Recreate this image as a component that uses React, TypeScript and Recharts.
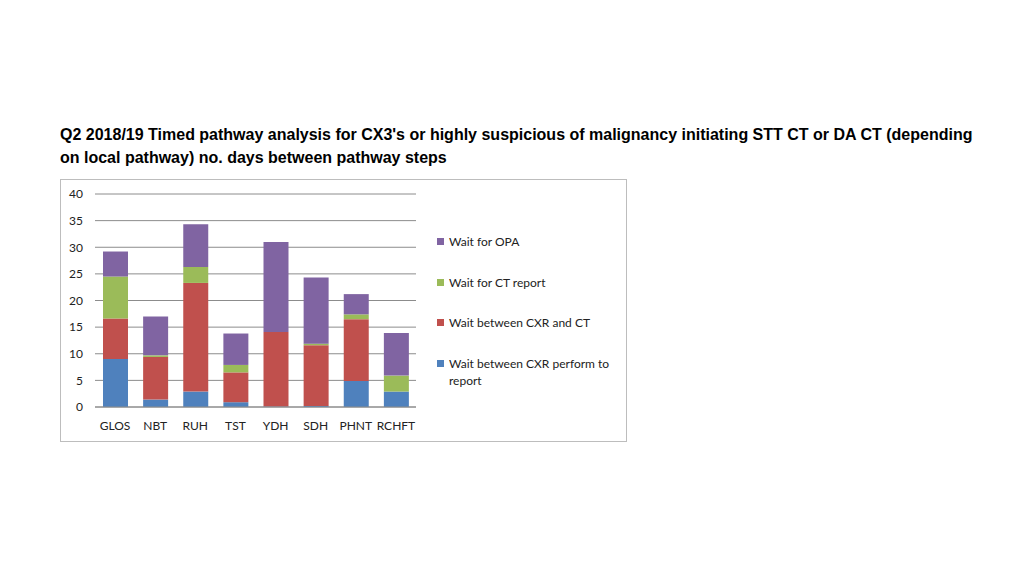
import { BarChart, Bar, XAxis, YAxis, CartesianGrid } from 'recharts'

const sites = ['GLOS', 'NBT', 'RUH', 'TST', 'YDH', 'SDH', 'PHNT', 'RCHFT']
const cxrReport = [9.0, 1.4, 2.9, 0.9, 0.1, 0.2, 4.9, 2.9]
const cxrToCt = [7.6, 8.0, 20.4, 5.6, 14.0, 11.4, 11.6, 0]
const ctReport = [7.9, 0.3, 3.0, 1.4, 0, 0.3, 0.9, 3.0]
const opa = [4.7, 7.3, 8.0, 5.9, 16.9, 12.4, 3.8, 8.0]
const yTicks = [0, 5, 10, 15, 20, 25, 30, 35, 40]

const series = [
  { key: 'cxrReport', name: 'Wait between CXR perform to report', color: '#4F81BD', values: cxrReport },
  { key: 'cxrToCt', name: 'Wait between CXR and CT', color: '#C0504D', values: cxrToCt },
  { key: 'ctReport', name: 'Wait for CT report', color: '#9BBB59', values: ctReport },
  { key: 'opa', name: 'Wait for OPA', color: '#8064A2', values: opa },
]

const data = sites.map((site, i) => {
  const row: Record<string, string | number> = { site }
  series.forEach(s => { row[s.key] = s.values[i] })
  return row
})

const font = 'Lato, "Open Sans", sans-serif'

function LegendBox() {
  return (
    <div style={{ position: 'absolute', left: 376, top: 53, width: 180, fontFamily: font, fontSize: 12, color: '#222' }}>
      {[...series].reverse().map(s => (
        <div key={s.key} style={{ display: 'flex', alignItems: 'flex-start', height: 40.5 }}>
          <span style={{ width: 7, height: 7, background: s.color, marginTop: 5, marginRight: 5, flexShrink: 0 }} />
          <span style={{ lineHeight: '17px' }}>{s.name}</span>
        </div>
      ))}
    </div>
  )
}

export default function App() {
  return (
    <div style={{ position: 'absolute', left: 0, top: 0, width: 1024, height: 576, background: '#fff' }}>
      <div style={{
        position: 'absolute', left: 60, top: 123, width: 940,
        fontFamily: '"Liberation Sans", Arial, sans-serif', fontWeight: 'bold', fontSize: 16,
        lineHeight: '23px', color: '#000',
      }}>
        Q2 2018/19 Timed pathway analysis for CX3's or highly suspicious of malignancy initiating STT CT or DA CT (depending<br />
        on local pathway) no. days between pathway steps
      </div>
      <div style={{
        position: 'absolute', left: 60, top: 179, width: 565, height: 261,
        border: '1px solid #bdbdbd', background: '#fff',
      }}>
        <BarChart
          width={565}
          height={261}
          data={data}
          margin={{ top: 14, right: 210, left: 4, bottom: 4 }}
          barSize={25}
        >
          <CartesianGrid vertical={false} stroke="#8c8c8c" strokeWidth={1} />
          <XAxis
            dataKey="site"
            height={30}
            interval={0}
            tick={{ fill: '#222', fontSize: 12, fontFamily: font }}
            tickLine={false}
            axisLine={{ stroke: '#8c8c8c' }}
            tickMargin={8}
          />
          <YAxis
            width={30}
            domain={[0, 40]}
            ticks={yTicks}
            interval={0}
            tick={{ fill: '#222', fontSize: 12, fontFamily: font }}
            tickLine={false}
            axisLine={false}
            tickMargin={6}
          />
          {series.map(s => (
            <Bar key={s.key} dataKey={s.key} name={s.name} stackId="a" fill={s.color} isAnimationActive={false} />
          ))}
        </BarChart>
        <LegendBox />
      </div>
    </div>
  )
}
